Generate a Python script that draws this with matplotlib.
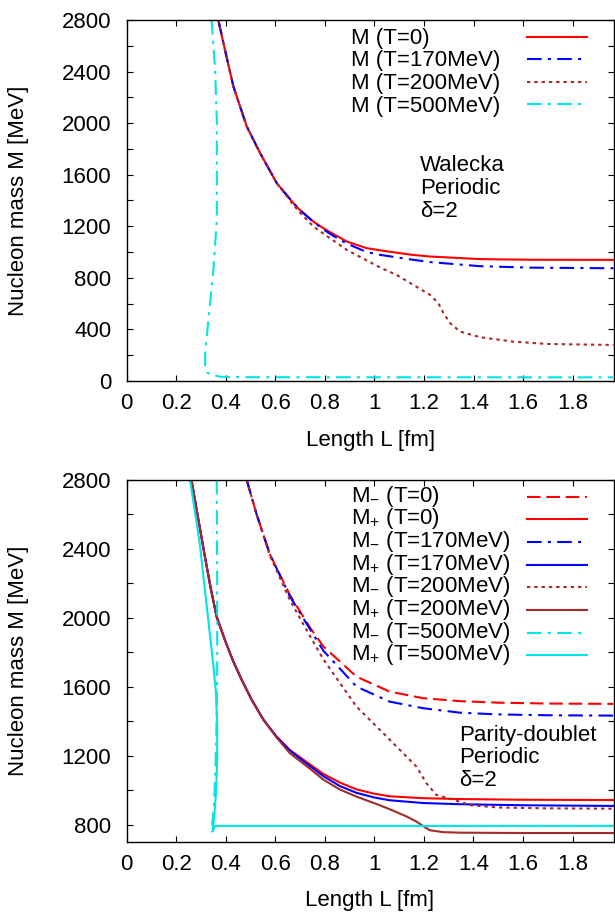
import matplotlib
matplotlib.use("Agg")
import matplotlib.pyplot as plt
from matplotlib.ticker import MultipleLocator, FuncFormatter

plt.rcParams['font.family'] = ['Liberation Sans', 'DejaVu Sans']
plt.rcParams['mathtext.fontset'] = 'custom'
plt.rcParams['mathtext.rm'] = 'Liberation Sans'
plt.rcParams['mathtext.it'] = 'Liberation Sans:italic'
plt.rcParams['font.size'] = 16

# ---- Walecka model (top panel) ----
L_w_t0 = [0.37, 0.39, 0.431, 0.485, 0.539, 0.606, 0.673, 0.70, 0.754, 0.80,
          0.889, 0.969, 1.023, 1.144, 1.225, 1.427, 1.628, 1.965]
M_w_t0 = [2800, 2625, 2283, 1973, 1766, 1534, 1379, 1325, 1236, 1177,
          1081, 1030, 1013, 980, 965, 945, 940, 939]

L_w_t170 = [0.37, 0.39, 0.431, 0.485, 0.539, 0.606, 0.673, 0.70, 0.754, 0.80,
            0.834, 0.889, 0.969, 1.023, 1.144, 1.225, 1.427, 1.628, 1.965]
M_w_t170 = [2800, 2625, 2283, 1973, 1766, 1534, 1379, 1325, 1232, 1168,
            1125, 1065, 1000, 978, 943, 922, 890, 879, 874]

L_w_t200 = [0.37, 0.39, 0.431, 0.485, 0.539, 0.606, 0.633, 0.673, 0.70, 0.754,
            0.80, 0.889, 1.023, 1.09, 1.157, 1.225, 1.258, 1.279, 1.306, 1.346,
            1.427, 1.561, 1.696, 1.965]
M_w_t200 = [2800, 2625, 2283, 1973, 1766, 1534, 1466, 1365, 1305, 1197,
            1135, 1016, 880, 822, 745, 667, 603, 525, 447, 383,
            339, 305, 287, 279]

L_w_t500 = [0.343, 0.357, 0.364, 0.364, 0.364, 0.35, 0.33, 0.317, 0.317, 0.325,
            0.343, 0.38, 0.5, 1.965]
M_w_t500 = [2800, 2413, 2025, 1600, 1249, 861, 473, 215, 111, 65,
            47, 32, 29, 28]

# ---- Parity-doublet model (bottom panel) ----
L_pm_t0 = [0.485, 0.525, 0.552, 0.579, 0.659, 0.74, 0.794, 0.928, 1.062, 1.197,
           1.345, 1.5, 1.7, 1.965]
M_pm_t0 = [2800, 2600, 2483, 2367, 2133, 1945, 1835, 1659, 1572, 1534,
           1517, 1508, 1503, 1501]

L_pm_t170 = [0.485, 0.525, 0.552, 0.579, 0.659, 0.74, 0.794, 0.928, 1.062, 1.197,
             1.345, 1.5, 1.7, 1.965]
M_pm_t170 = [2800, 2600, 2483, 2367, 2125, 1935, 1810, 1601, 1514, 1476,
             1450, 1440, 1435, 1433]

L_pm_t200 = [0.485, 0.525, 0.552, 0.579, 0.659, 0.74, 0.794, 0.928, 1.036, 1.116,
             1.17, 1.21, 1.25, 1.304, 1.39, 1.5, 1.7, 1.965]
M_pm_t200 = [2800, 2600, 2483, 2360, 2104, 1895, 1760, 1485, 1331, 1215,
             1137, 1041, 973, 951, 913, 900, 895, 893]

L_pm_t500 = [0.364, 0.366, 0.366, 0.363, 0.36, 0.355, 0.352, 0.346, 0.35, 0.37, 1.965]
M_pm_t500 = [2800, 2200, 1700, 1369, 1176, 983, 900, 800, 790, 793, 793]

L_pp_t0 = [0.262, 0.29, 0.317, 0.34, 0.364, 0.40, 0.43, 0.465, 0.505, 0.552,
           0.606, 0.659, 0.74, 0.794, 0.86, 0.928, 1.0, 1.062, 1.197, 1.345,
           1.6, 1.965]
M_pp_t0 = [2800, 2570, 2350, 2170, 2005, 1860, 1750, 1640, 1525, 1410,
           1310, 1234, 1150, 1095, 1045, 1005, 980, 965, 954, 949,
           945, 943]

L_pp_t170 = [0.262, 0.29, 0.317, 0.34, 0.364, 0.40, 0.43, 0.465, 0.505, 0.552,
             0.606, 0.659, 0.74, 0.794, 0.86, 0.928, 1.0, 1.062, 1.197, 1.345,
             1.6, 1.965]
M_pp_t170 = [2800, 2570, 2350, 2170, 2005, 1860, 1750, 1640, 1525, 1410,
             1310, 1230, 1140, 1082, 1025, 985, 958, 942, 926, 919,
             913, 909]

L_pp_t200 = [0.262, 0.29, 0.317, 0.34, 0.364, 0.40, 0.43, 0.465, 0.505, 0.552,
             0.606, 0.659, 0.74, 0.794, 0.86, 0.928, 1.0, 1.062, 1.13, 1.17,
             1.197, 1.224, 1.277, 1.345, 1.6, 1.965]
M_pp_t200 = [2800, 2570, 2350, 2170, 2005, 1860, 1750, 1640, 1525, 1410,
             1305, 1215, 1125, 1062, 1005, 963, 925, 890, 848, 818,
             792, 768, 757, 754, 752, 752]

L_pp_t500 = [0.256, 0.276, 0.296, 0.323, 0.35, 0.361, 0.366, 0.366, 0.361, 0.354,
             0.348, 0.347, 0.357, 1.965]
M_pp_t500 = [2800, 2618, 2425, 2077, 1730, 1563, 1369, 1176, 983, 847,
             770, 760, 793, 793]

x_ticks = [0, 0.2, 0.4, 0.6, 0.8, 1.0, 1.2, 1.4, 1.6, 1.8]

RED = '#ff0000'
BLUE = '#0000ff'
BROWN = '#a52a2a'
CYAN = '#00e5e5'

SOLID = '-'
DASHED = (0, (6.5, 2.8))
DASHDOT = (0, (7, 3, 1.5, 3))
DOTTED = (0, (1.6, 1.9))


def style_axes(ax, ymin, ymax):
    ax.set_xlim(0, 1.965)
    ax.set_ylim(ymin, ymax)
    ax.set_xticks(x_ticks)
    ax.xaxis.set_major_formatter(FuncFormatter(lambda v, p: '%g' % v))
    ax.yaxis.set_major_locator(MultipleLocator(400))
    ax.yaxis.set_minor_locator(MultipleLocator(200))
    ax.tick_params(which='both', direction='in', top=True, right=True,
                   length=4.5, width=0.8, labelsize=16)
    ax.tick_params(axis='x', pad=9)
    ax.tick_params(axis='y', pad=11)
    for s in ax.spines.values():
        s.set_linewidth(1.0)
    ax.set_xlabel('Length L [fm]')
    ax.set_ylabel('Nucleon mass M [MeV]')


def legend_row(ax, label, ytext, yline, x_text, x0, x1, **kw):
    ax.text(x_text, ytext, label, transform=ax.transAxes, ha='left',
            va='baseline', fontsize=16)
    ax.plot([x0, x1], [yline, yline], transform=ax.transAxes,
            clip_on=False, **kw)


fig = plt.figure(figsize=(6.15, 9.14), dpi=100)

# ---------------- top panel ----------------
ax1 = fig.add_axes([0.2059, 0.5832, 0.7917, 0.3950])
top_series = [
    (L_w_t0, M_w_t0, 'M (T=0)', dict(color=RED, ls=SOLID, lw=1.5)),
    (L_w_t170, M_w_t170, 'M (T=170MeV)', dict(color=BLUE, ls=DASHDOT, lw=1.5)),
    (L_w_t200, M_w_t200, 'M (T=200MeV)', dict(color=BROWN, ls=DOTTED, lw=1.5)),
    (L_w_t500, M_w_t500, 'M (T=500MeV)', dict(color=CYAN, ls=DASHDOT, lw=1.5)),
]
text_y = [0.9332, 0.8714, 0.8086, 0.7460]
line_y = [0.9537, 0.8920, 0.8291, 0.7664]
for (xs, ys, lab, kw), ty, ly in zip(top_series, text_y, line_y):
    ax1.plot(xs, ys, **kw)
    legend_row(ax1, lab, ty, ly, 0.4603, 0.8224, 0.9456, **kw)

style_axes(ax1, 0, 2800)
ax1.xaxis.set_label_coords(0.5, -0.136)
ax1.yaxis.set_label_coords(-0.2, 0.5)
for txt, yy in zip(['Walecka', 'Periodic', 'δ=2'], [0.581, 0.517, 0.454]):
    ax1.text(0.6026, yy, txt, transform=ax1.transAxes, va='baseline', fontsize=16)

# ---------------- bottom panel ----------------
ax2 = fig.add_axes([0.2057, 0.0788, 0.7919, 0.3961])
bottom_series = [
    (L_pm_t0, M_pm_t0, r'M$_{-}$ (T=0)', dict(color=RED, ls=DASHED, lw=1.5)),
    (L_pp_t0, M_pp_t0, r'M$_{+}$ (T=0)', dict(color=RED, ls=SOLID, lw=1.5)),
    (L_pm_t170, M_pm_t170, r'M$_{-}$ (T=170MeV)', dict(color=BLUE, ls=DASHDOT, lw=1.5)),
    (L_pp_t170, M_pp_t170, r'M$_{+}$ (T=170MeV)', dict(color=BLUE, ls=SOLID, lw=1.5)),
    (L_pm_t200, M_pm_t200, r'M$_{-}$ (T=200MeV)', dict(color=BROWN, ls=DOTTED, lw=1.5)),
    (L_pp_t200, M_pp_t200, r'M$_{+}$ (T=200MeV)', dict(color=BROWN, ls=SOLID, lw=1.5)),
    (L_pm_t500, M_pm_t500, r'M$_{-}$ (T=500MeV)', dict(color=CYAN, ls=DASHDOT, lw=1.5)),
    (L_pp_t500, M_pp_t500, r'M$_{+}$ (T=500MeV)', dict(color=CYAN, ls=SOLID, lw=1.5)),
]
text_y2 = [0.9403, 0.8773, 0.8149, 0.7522, 0.6895, 0.6268, 0.5643, 0.5016]
line_y2 = [0.9539, 0.8909, 0.8285, 0.7657, 0.7030, 0.6403, 0.5779, 0.5152]
for (xs, ys, lab, kw), ty, ly in zip(bottom_series, text_y2, line_y2):
    ax2.plot(xs, ys, **kw)
    legend_row(ax2, lab, ty, ly, 0.461, 0.823, 0.945, **kw)

style_axes(ax2, 700, 2800)
ax2.xaxis.set_label_coords(0.5, -0.133)
ax2.yaxis.set_label_coords(-0.2, 0.5)
for txt, yy in zip(['Parity-doublet', 'Periodic', 'δ=2'], [0.2798, 0.2171, 0.1555]):
    ax2.text(0.6834, yy, txt, transform=ax2.transAxes, va='baseline', fontsize=16)

fig.savefig('out.png', dpi=100)
